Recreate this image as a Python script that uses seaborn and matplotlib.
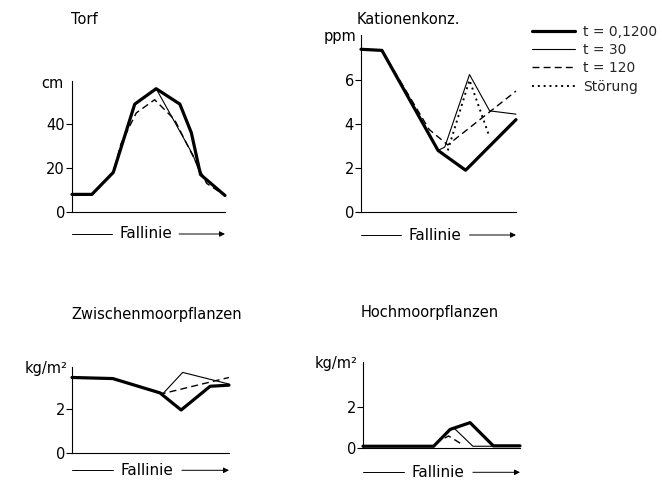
import matplotlib
matplotlib.use("Agg")
import matplotlib.pyplot as plt
import matplotlib.transforms as mtransforms
from matplotlib.lines import Line2D
import seaborn as sns
import pandas as pd

sns.set_theme(style="white")
plt.rcParams['font.family'] = ['DejaVu Sans']

# ---------------- data ----------------
labels = ["t = 0,1200", "t = 30", "t = 120", "Störung"]

# Torf (cm)
torf_x_0 = [0, 1.3, 2.7, 4.1, 5.5, 7.05, 7.8, 8.4, 10]
torf_y_0 = [8, 8, 18, 49, 56, 49, 36, 17, 7.5]
torf_x_30 = [0, 1.3, 2.7, 4.1, 5.5, 7.9, 8.4, 10]
torf_y_30 = [8, 8, 18, 49, 56, 26, 17, 7.5]
torf_x_120 = [0, 1.3, 2.7, 3.2, 4.2, 5.4, 6.7, 8.15, 8.8, 10]
torf_y_120 = [8, 8, 18, 31, 45, 51, 42, 22, 13, 7.5]

# Kationenkonz. (ppm)
kat_x_0 = [0, 1.35, 4.97, 6.75, 10]
kat_y_0 = [7.4, 7.35, 2.8, 1.9, 4.2]
kat_x_30 = [0, 1.35, 4.97, 5.4, 7.0, 8.3, 10]
kat_y_30 = [7.4, 7.35, 2.8, 2.95, 6.25, 4.6, 4.45]
kat_x_120 = [0, 1.35, 4.4, 5.6, 10]
kat_y_120 = [7.4, 7.35, 3.75, 3.05, 5.5]
kat_x_st = [5.6, 7.0, 8.3]
kat_y_st = [2.8, 6.0, 3.4]

# Zwischenmoorpflanzen (kg/m2)
zw_x_0 = [0, 2.6, 5.6, 6.95, 8.8, 10]
zw_y_0 = [3.45, 3.4, 2.75, 1.97, 3.05, 3.1]
zw_x_30 = [0, 2.6, 5.8, 7.05, 10]
zw_y_30 = [3.45, 3.4, 2.72, 3.68, 3.15]
zw_x_120 = [0, 2.6, 5.8, 10]
zw_y_120 = [3.45, 3.4, 2.72, 3.45]

# Hochmoorpflanzen (kg/m2)
ho_x_0 = [0, 4.5, 5.55, 6.82, 8.3, 10]
ho_y_0 = [0.1, 0.1, 0.92, 1.25, 0.12, 0.12]
ho_x_30 = [0, 4.5, 5.55, 5.75, 7.0, 10]
ho_y_30 = [0.1, 0.1, 0.92, 1.02, 0.1, 0.1]
ho_x_120 = [5.2, 5.45, 6.4]
ho_y_120 = [0.5, 0.6, 0.15]

titles = ["Torf", "Kationenkonz.", "Zwischenmoorpflanzen", "Hochmoorpflanzen"]
units = ["cm", "ppm", "kg/m²", "kg/m²"]
yticks = [[0, 20, 40], [0, 2, 4, 6], [0, 2], [0, 2]]
ylims = [(0, 59.5), (0, 8.05), (0, 3.94), (0, 4.22)]
xlabel = "Fallinie"

# ---------------- styles ----------------
W, H = 662, 480
styles = {
    labels[0]: dict(lw=2.3, ls="-"),
    labels[1]: dict(lw=0.8, ls="-"),
    labels[2]: dict(lw=1.0, ls=(0, (5, 3))),
    labels[3]: dict(lw=1.4, ls=(0, (1, 2))),
}

fig = plt.figure(figsize=(W / 100, H / 100), dpi=100)
fig.patch.set_facecolor("white")

# axes boxes in pixels: left, top(axis top), right, zero-line y
boxes = [(72, 81, 225, 212), (361, 35, 516, 212),
         (72, 366.7, 229, 453.3), (363, 361.7, 520, 448.3)]
title_pos = [(71, 20), (357, 19), (71, 315), (361, 312)]
fall_off = [22, 23, 17, 24]
unit_off = [-8, -5, -4, -5]

panels = [
    [(torf_x_30, torf_y_30, labels[1]), (torf_x_120, torf_y_120, labels[2]), (torf_x_0, torf_y_0, labels[0])],
    [(kat_x_30, kat_y_30, labels[1]), (kat_x_120, kat_y_120, labels[2]), (kat_x_st, kat_y_st, labels[3]), (kat_x_0, kat_y_0, labels[0])],
    [(zw_x_30, zw_y_30, labels[1]), (zw_x_120, zw_y_120, labels[2]), (zw_x_0, zw_y_0, labels[0])],
    [(ho_x_30, ho_y_30, labels[1]), (ho_x_120, ho_y_120, labels[2]), (ho_x_0, ho_y_0, labels[0])],
]

axes = []
for i, (l, t, r, b) in enumerate(boxes):
    ax = fig.add_axes([l / W, 1 - b / H, (r - l) / W, (b - t) / H])
    ax.set_facecolor("white")
    axes.append(ax)
    for xs, ys, lab in panels[i]:
        df = pd.DataFrame({"x": xs, "y": ys})
        sns.lineplot(data=df, x="x", y="y", ax=ax, color="black", sort=False,
                     estimator=None, linewidth=styles[lab]["lw"],
                     linestyle=styles[lab]["ls"], legend=False, clip_on=False)
    ax.set_xlim(0, 10)
    ax.set_ylim(*ylims[i])
    ax.set_xlabel("")
    ax.set_ylabel("")
    ax.set_xticks([])
    ax.set_yticks(yticks[i])
    ax.set_yticklabels([str(v) for v in yticks[i]])
    ax.tick_params(axis="y", direction="out", length=4, width=0.8,
                   pad=1, labelsize=10.5, colors="black", left=True)
    for s in ["top", "right"]:
        ax.spines[s].set_visible(False)
    for s in ["left", "bottom"]:
        ax.spines[s].set_color("black")
        ax.spines[s].set_linewidth(0.8)
    # unit label
    ax.annotate(units[i], xy=(0, 1), xycoords="axes fraction",
                xytext=(unit_off[i], -2), textcoords="offset pixels",
                ha="right", va="center", fontsize=10.5, color="black")
    # title
    fig.text(title_pos[i][0] / W, 1 - title_pos[i][1] / H, titles[i],
             ha="left", va="center", fontsize=10.5, color="black")
    # Fallinie arrow label
    tr = mtransforms.offset_copy(ax.transAxes, fig=fig, x=0, y=-fall_off[i], units="dots")
    txt_c = 0.48
    ax.text(txt_c, 0, xlabel, transform=tr, ha="center", va="center",
            fontsize=11, color="black", clip_on=False)
    ax.add_line(Line2D([0.0, 0.26], [0, 0], transform=tr, color="black",
                       lw=0.7, clip_on=False))
    ax.annotate("", xy=(1.0, 0), xycoords=tr, xytext=(0.7, 0), textcoords=tr,
                arrowprops=dict(arrowstyle="-|>", color="black", lw=0.7,
                                mutation_scale=8, shrinkA=0, shrinkB=0),
                annotation_clip=False)

handles = [Line2D([], [], color="black", linewidth=styles[lab]["lw"],
                  linestyle=styles[lab]["ls"]) for lab in labels]
fig.legend(handles, labels, loc="upper left",
           bbox_to_anchor=(532 / W, 1 - 25 / H), frameon=False,
           fontsize=10, handlelength=3.1, handletextpad=0.55,
           labelspacing=0.3, borderpad=0, borderaxespad=0)

fig.savefig("out.png", dpi=100, facecolor="white")
